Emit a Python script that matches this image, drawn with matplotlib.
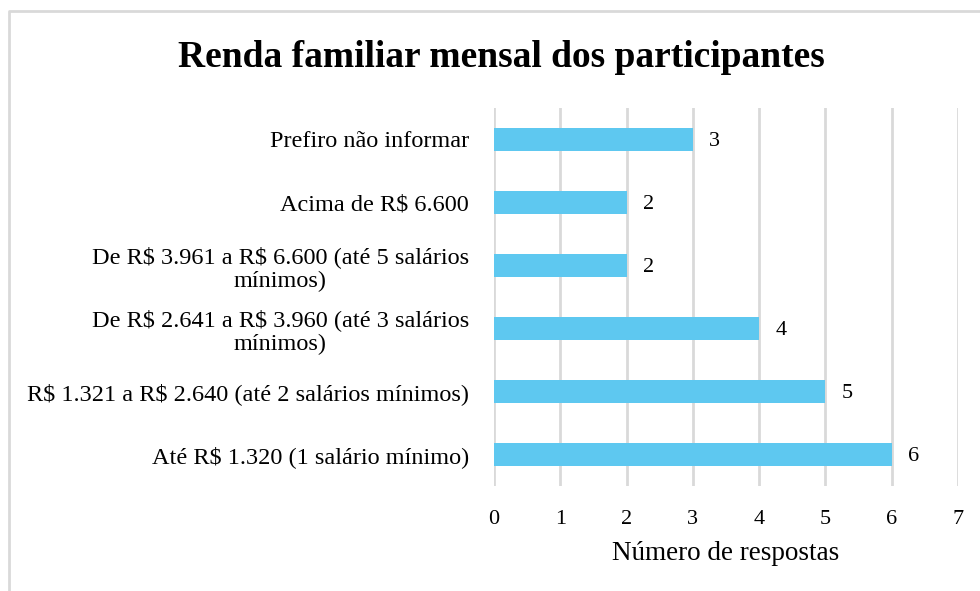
import matplotlib.pyplot as plt
from matplotlib.lines import Line2D

# data (bottom to top)
categories = [
    "Até R\\$ 1.320 (1 salário mínimo)",
    "R\\$ 1.321 a R\\$ 2.640 (até 2 salários mínimos)",
    "De R\\$ 2.641 a R\\$ 3.960 (até 3 salários\nmínimos)",
    "De R\\$ 3.961 a R\\$ 6.600 (até 5 salários\nmínimos)",
    "Acima de R\\$ 6.600",
    "Prefiro não informar",
]
counts = [6, 5, 4, 2, 2, 3]
xticks = [0, 1, 2, 3, 4, 5, 6, 7]

plt.rcParams['font.family'] = ['Liberation Serif', 'DejaVu Serif']

fig = plt.figure(figsize=(9.8, 5.91), dpi=100)
ax = fig.add_axes([0.504, 0.1777, 0.4735, 0.6396])

# outer frame of the chart area (only left and top edges are visible)
fig.lines.append(Line2D([9 / 980, 9 / 980, 1], [0, 1 - 11 / 591, 1 - 11 / 591],
                        transform=fig.transFigure, color='#d9d9d9', linewidth=2))

ypos = range(len(categories))
ax.barh(ypos, counts, height=0.35, color='#5ec8f0', zorder=3)
for y, v in zip(ypos, counts):
    ax.text(v + 0.25, y, str(v), va='center_baseline', ha='left', fontsize=16)

ax.set_xlim(0, 7)
ax.set_ylim(-0.5, 5.5)
ax.set_xticks(xticks)
ax.set_yticks(list(ypos))
ax.set_yticklabels(categories, fontsize=17.5, ha='right', multialignment='center',
                   linespacing=1.15)
ax.tick_params(axis='y', length=0, pad=18)
ax.tick_params(axis='x', length=0, pad=17, labelsize=16)
for s in ax.spines.values():
    s.set_visible(False)
ax.grid(axis='x', color='#d9d9d9', linewidth=2, zorder=0)
ax.set_axisbelow(True)
ax.set_xlabel("Número de respostas", fontsize=19.5, labelpad=9)

fig.text(0.512, 0.903, "Renda familiar mensal dos participantes", ha='center', va='center',
         fontsize=27, fontweight='bold')

fig.savefig('out.png', dpi=100)
